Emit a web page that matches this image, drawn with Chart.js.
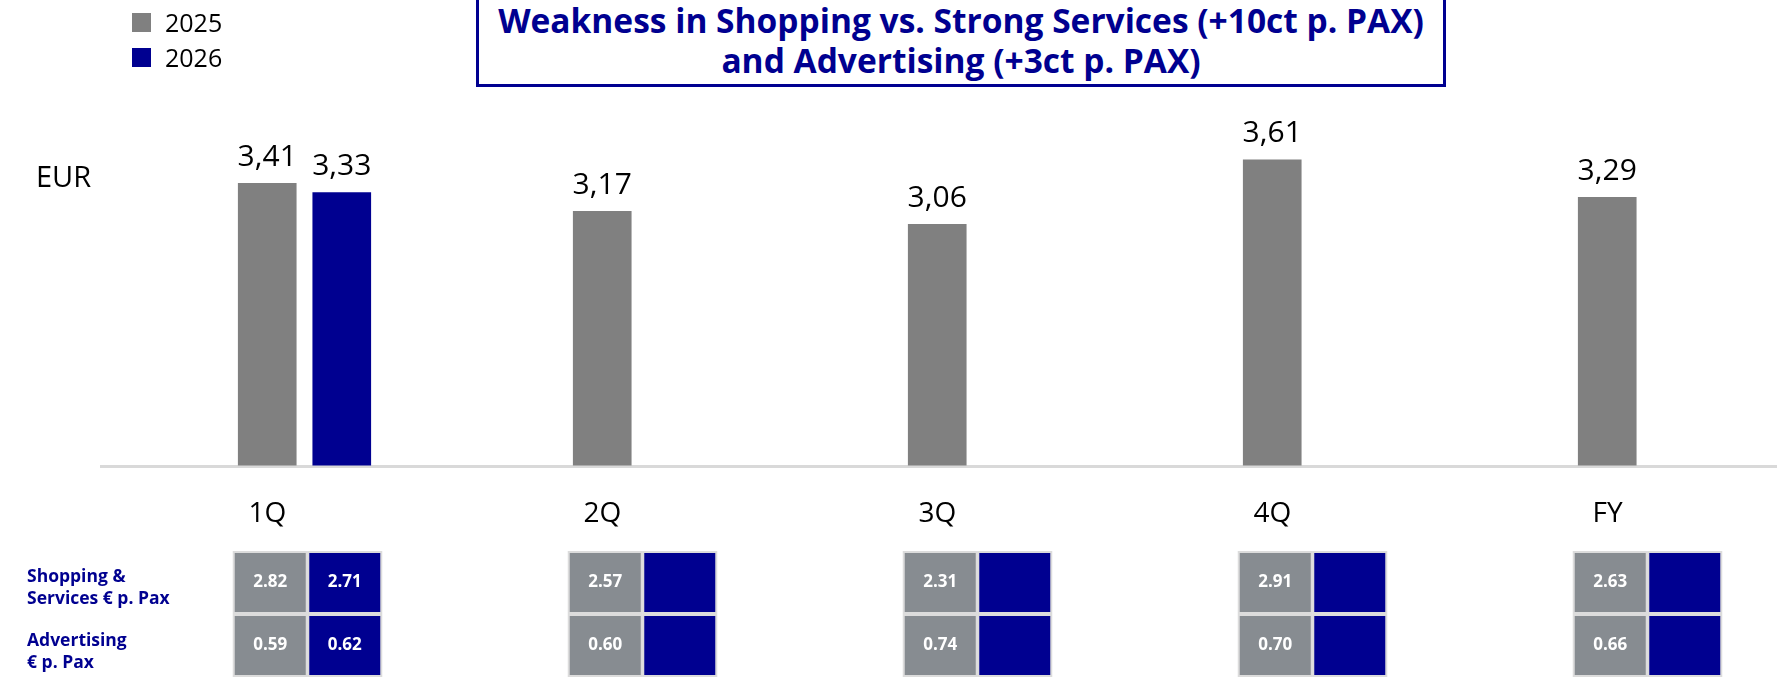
<!DOCTYPE html>
<html>
<head>
<meta charset="utf-8">
<script src="https://cdn.jsdelivr.net/npm/chart.js@4.4.1/dist/chart.umd.min.js"></script>
<style>
  html, body { margin: 0; padding: 0; background: #fff; overflow: hidden; width: 1777px; height: 677px; }
  body { position: relative; font-family: 'Open Sans', sans-serif; }
  #wrap { position: absolute; left: 0; top: 0; width: 1812px; height: 677px; }
  #title-box {
    position: absolute; left: 476px; top: -3px; width: 964px; height: 84px;
    border: 3px solid #000090; color: #000090; font-weight: bold; font-size: 33.5px;
    line-height: 40px; text-align: center; background: #fff; white-space: nowrap;
  }
  #legend { position: absolute; left: 132px; top: 12px; }
  .legend-item { display: flex; align-items: center; height: 20px; margin-bottom: 15px; font-size: 25px; color: #000; }
  .legend-item span.box { width: 19px; height: 19px; margin-right: 14px; }
  #unit { position: absolute; left: 36px; top: 158px; font-size: 29px; line-height: 36px; color: #000; }
  .row-label { position: absolute; left: 27px; font-size: 17.5px; font-weight: bold; line-height: 22px; color: #000090; white-space: nowrap; }
</style>
</head>
<body>
<div id="wrap"><canvas id="chart"></canvas></div>
<div id="legend"></div>
<div id="title-box">Weakness in Shopping vs. Strong Services (+10ct p. PAX)<br>and Advertising (+3ct p. PAX)</div>
<div id="unit">EUR</div>
<div class="row-label" id="row-shopping" style="top:564px"></div>
<div class="row-label" id="row-advertising" style="top:628px"></div>
<script>
const categories = ['1Q', '2Q', '3Q', '4Q', 'FY'];
const seriesLabels = ['2025', '2026'];
const values2025 = [3.41, 3.17, 3.06, 3.61, 3.29];
const values2026 = [3.33, null, null, null, null];

// table below the bars (EUR per pax)
const shopping2025 = [2.82, 2.57, 2.31, 2.91, 2.63];
const shopping2026 = [2.71, null, null, null, null];
const advertising2025 = [0.59, 0.60, 0.74, 0.70, 0.66];
const advertising2026 = [0.62, null, null, null, null];
const rowLabels = [['Shopping &', 'Services € p. Pax'], ['Advertising', '€ p. Pax']];

const barColors = ['#808080', '#000090'];
const cellColors = ['#878c91', '#000090'];

document.getElementById('row-shopping').innerHTML = rowLabels[0].join('<br>');
document.getElementById('row-advertising').innerHTML = rowLabels[1].join('<br>');

// legende
const legend = document.getElementById('legend');
seriesLabels.forEach((lbl, i) => {
    const item = document.createElement('div');
    item.className = 'legend-item';
    item.innerHTML = '<span class="box" style="background:' + barColors[i] + '"></span>' + lbl;
    legend.appendChild(item);
});

const fmtComma = v => v.toFixed(2).replace('.', ',');

// x-Achse als hellgraue Linie
const baselinePlugin = {
    id: 'baseline',
    beforeDatasetsDraw(chart) {
        const ctx = chart.ctx;
        const y = chart.chartArea.bottom + 1;
        ctx.save();
        ctx.strokeStyle = '#d9d9d9';
        ctx.lineWidth = 3;
        ctx.beginPath();
        ctx.moveTo(chart.chartArea.left - 37, y);
        ctx.lineTo(chart.width, y);
        ctx.stroke();
        ctx.restore();
    }
};

const valueLabels = {
    id: 'valueLabels',
    afterDatasetsDraw(chart) {
        const ctx = chart.ctx;
        ctx.save();
        ctx.font = '30px "Open Sans"';
        ctx.fillStyle = '#000';
        ctx.textAlign = 'center';
        ctx.textBaseline = 'alphabetic';
        chart.data.datasets.forEach((ds, d) => {
            chart.getDatasetMeta(d).data.forEach((bar, i) => {
                const v = ds.data[i];
                if (v == null) return;
                ctx.fillText(fmtComma(v), bar.x, bar.y - 17);
            });
        });
        ctx.restore();
    }
};

// kleine Tabelle unter den Quartalen
const tablePlugin = {
    id: 'table',
    afterDraw(chart) {
        const ctx = chart.ctx;
        const rows = [[shopping2025, shopping2026], [advertising2025, advertising2026]];
        const rowTop = [552, 615];
        const rowH = 61;
        const cellW = 73;
        ctx.save();
        ctx.textAlign = 'center';
        ctx.textBaseline = 'middle';
        ctx.font = 'bold 17px "Open Sans"';
        [0, 1].forEach(d => {
            const meta = chart.getDatasetMeta(d);
            meta.data.forEach((bar, i) => {
                const cx = bar.x + 3;
                rows.forEach((r, ri) => {
                    const x = cx - cellW / 2;
                    const y = rowTop[ri];
                    ctx.fillStyle = cellColors[d];
                    ctx.fillRect(x, y, cellW, rowH);
                    ctx.strokeStyle = '#dcdcdc';
                    ctx.lineWidth = 2;
                    ctx.strokeRect(x, y, cellW, rowH);
                    const v = r[d][i];
                    if (v != null) {
                        ctx.fillStyle = '#fff';
                        ctx.fillText(v.toFixed(2), cx, y + rowH / 2);
                    }
                });
            });
        });
        ctx.restore();
    }
};

const chart = new Chart(document.getElementById('chart'), {
    type: 'bar',
    data: {
        labels: categories,
        datasets: [
            { label: seriesLabels[0], data: values2025, backgroundColor: barColors[0] },
            { label: seriesLabels[1], data: values2026, backgroundColor: barColors[1] }
        ]
    },
    options: {
        responsive: true,
        maintainAspectRatio: false,
        animation: false,
        categoryPercentage: 0.445,
        barPercentage: 0.787,
        layout: { padding: { left: 137, right: 0, top: 0, bottom: 114 } },
        plugins: {
            legend: { display: false },
            tooltip: { enabled: false }
        },
        scales: {
            x: {
                grid: { display: false, drawTicks: false },
                border: { display: false },
                ticks: { font: { size: 28, family: 'Open Sans' }, color: '#000', padding: 32, labelOffset: -37 }
            },
            y: {
                display: false,
                min: 1,
                max: 4.97
            }
        }
    },
    plugins: [baselinePlugin, valueLabels, tablePlugin]
});
</script>
</body>
</html>
